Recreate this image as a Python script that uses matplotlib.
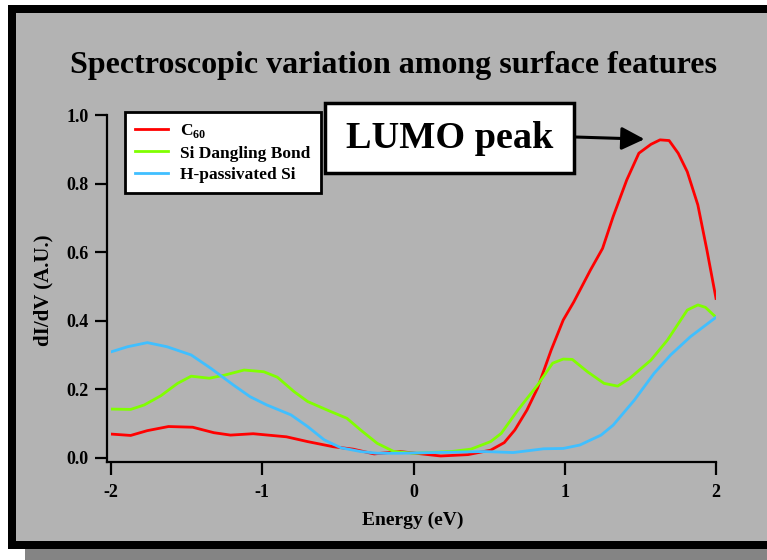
import matplotlib
matplotlib.use("Agg")
import matplotlib.pyplot as plt
from matplotlib.patches import Rectangle

plt.rcParams['font.family'] = 'Liberation Serif'
plt.rcParams['font.weight'] = 'bold'
plt.rcParams['mathtext.fontset'] = 'custom'
plt.rcParams['mathtext.rm'] = 'Liberation Serif:bold'
plt.rcParams['mathtext.bf'] = 'Liberation Serif:bold'

# C60 curve
c60_e = [-2.0, -1.87, -1.76, -1.62, -1.46, -1.32, -1.21, -1.06, -0.84, -0.70, -0.53, -0.40,
         -0.26, -0.09, 0.18, 0.36, 0.51, 0.60, 0.67, 0.75, 0.82, 0.91, 0.99, 1.06, 1.17,
         1.25, 1.32, 1.41, 1.49, 1.57, 1.63, 1.69, 1.75, 1.81, 1.88, 1.94, 2.0]
c60_v = [0.069, 0.065, 0.079, 0.091, 0.089, 0.073, 0.066, 0.070, 0.061, 0.047, 0.032, 0.025,
         0.011, 0.018, 0.005, 0.009, 0.022, 0.044, 0.081, 0.139, 0.203, 0.314, 0.402, 0.455, 0.548,
         0.611, 0.704, 0.811, 0.889, 0.915, 0.928, 0.926, 0.889, 0.835, 0.738, 0.606, 0.465]

# Si dangling bond curve
db_e = [-2.0, -1.87, -1.78, -1.67, -1.56, -1.47, -1.35, -1.25, -1.12, -0.99, -0.90, -0.79,
        -0.70, -0.57, -0.44, -0.35, -0.24, -0.13, 0.0, 0.25, 0.38, 0.51, 0.58, 0.69, 0.82,
        0.92, 0.99, 1.05, 1.15, 1.26, 1.35, 1.43, 1.57, 1.68, 1.81, 1.88, 1.93, 2.0]
db_v = [0.142, 0.141, 0.154, 0.181, 0.217, 0.238, 0.232, 0.241, 0.256, 0.251, 0.235, 0.193,
        0.164, 0.139, 0.115, 0.081, 0.042, 0.018, 0.013, 0.018, 0.025, 0.047, 0.071, 0.139, 0.212,
        0.276, 0.288, 0.287, 0.251, 0.217, 0.209, 0.232, 0.285, 0.344, 0.431, 0.446, 0.439, 0.41]

# H-passivated Si curve
h_e = [-2.0, -1.89, -1.76, -1.63, -1.47, -1.34, -1.19, -1.08, -0.97, -0.81, -0.70, -0.59,
       -0.48, -0.35, -0.24, -0.09, 0.13, 0.47, 0.66, 0.86, 0.99, 1.10, 1.24, 1.32, 1.46,
       1.59, 1.70, 1.83, 2.0]
h_v = [0.309, 0.324, 0.336, 0.324, 0.300, 0.261, 0.212, 0.178, 0.154, 0.125, 0.091, 0.052,
       0.029, 0.018, 0.013, 0.013, 0.015, 0.018, 0.015, 0.026, 0.027, 0.037, 0.066, 0.095, 0.168,
       0.246, 0.300, 0.353, 0.41]

W, H = 767, 560
fig = plt.figure(figsize=(W / 100, H / 100), dpi=100)
fig.patch.set_facecolor('white')


def fx(px):
    return px / W


def fy(py):
    return 1 - py / H


# framed panel with drop shadow
fig.patches.append(Rectangle((fx(25), fy(566)), 1.2, fx(560), transform=fig.transFigure,
                             facecolor='#848484', edgecolor='none', zorder=-3))
fig.patches.append(Rectangle((fx(8), fy(549)), 1.2, (549 - 5) / H, transform=fig.transFigure,
                             facecolor='black', edgecolor='none', zorder=-2))
fig.patches.append(Rectangle((fx(16), fy(541)), 1.2, (541 - 13) / H, transform=fig.transFigure,
                             facecolor='#b3b3b3', edgecolor='none', zorder=-1))

ax = fig.add_axes([fx(111), fy(457.7), fx(716 - 111), (457.7 - 115.2) / H])
ax.patch.set_visible(False)

ax.plot(c60_e, c60_v, color='#ff0000', lw=2, label='C$_{\\mathrm{60}}$')
ax.plot(db_e, db_v, color='#80ff00', lw=2, label='Si Dangling Bond')
ax.plot(h_e, h_v, color='#40bfff', lw=2, label='H-passivated Si')

ax.set_xlim(-2, 2)
ax.set_ylim(0, 1.0)
ax.set_xticks([-2, -1, 0, 1, 2])
ax.set_yticks([0.0, 0.2, 0.4, 0.6, 0.8, 1.0])
ax.set_xticklabels(['-2', '-1', '0', '1', '2'])
ax.set_yticklabels(['0.0', '0.2', '0.4', '0.6', '0.8', '1.0'])

for s in ['top', 'right']:
    ax.spines[s].set_visible(False)
for s in ['left', 'bottom']:
    ax.spines[s].set_linewidth(1.6)
    ax.spines[s].set_position(('outward', 3))
ax.spines['left'].set_bounds(-0.013, 1.0)
ax.spines['bottom'].set_bounds(-2.027, 2.0)
ax.tick_params(direction='out', length=9, width=1.6, labelsize=13, color='black')
ax.tick_params(axis='x', pad=7)
ax.tick_params(axis='y', pad=4)
for lab in ax.get_xticklabels() + ax.get_yticklabels():
    lab.set_fontweight('bold')

leg = ax.legend(loc='upper left', bbox_to_anchor=(0.023, 1.01), borderaxespad=0,
                fancybox=False, framealpha=1, facecolor='white', edgecolor='black',
                prop={'size': 12.5, 'weight': 'bold'}, handlelength=1.9, handletextpad=0.7,
                labelspacing=0.3, borderpad=0.6)
leg.get_frame().set_linewidth(2)

fig.text(fx(393), fy(66), 'Spectroscopic variation among surface features',
         ha='center', va='center', fontsize=23, fontweight='bold')
fig.text(fx(43), fy(290), 'dI/dV (A.U.)', ha='center', va='center', rotation=90,
         fontsize=15, fontweight='bold')
fig.text(fx(413), fy(520), 'Energy (eV)', ha='center', va='center',
         fontsize=14, fontweight='bold')

# LUMO peak callout
fig.patches.append(Rectangle((fx(325), fy(173)), fx(574 - 325), (173 - 103) / H,
                             transform=fig.transFigure, facecolor='white',
                             edgecolor='black', lw=2.5, zorder=3))
fig.text(fx(449.5), fy(139), 'LUMO peak', ha='center', va='center',
         fontsize=27.5, fontweight='bold', zorder=4)
ax.annotate('', xy=(1.527, 0.93), xycoords='data',
            xytext=(fx(575), fy(137)), textcoords='figure fraction',
            arrowprops=dict(arrowstyle='-|>,head_length=0.7,head_width=0.35',
                            color='black', lw=2.2, mutation_scale=20,
                            shrinkA=0, shrinkB=0))

fig.savefig('out.png', dpi=100)
